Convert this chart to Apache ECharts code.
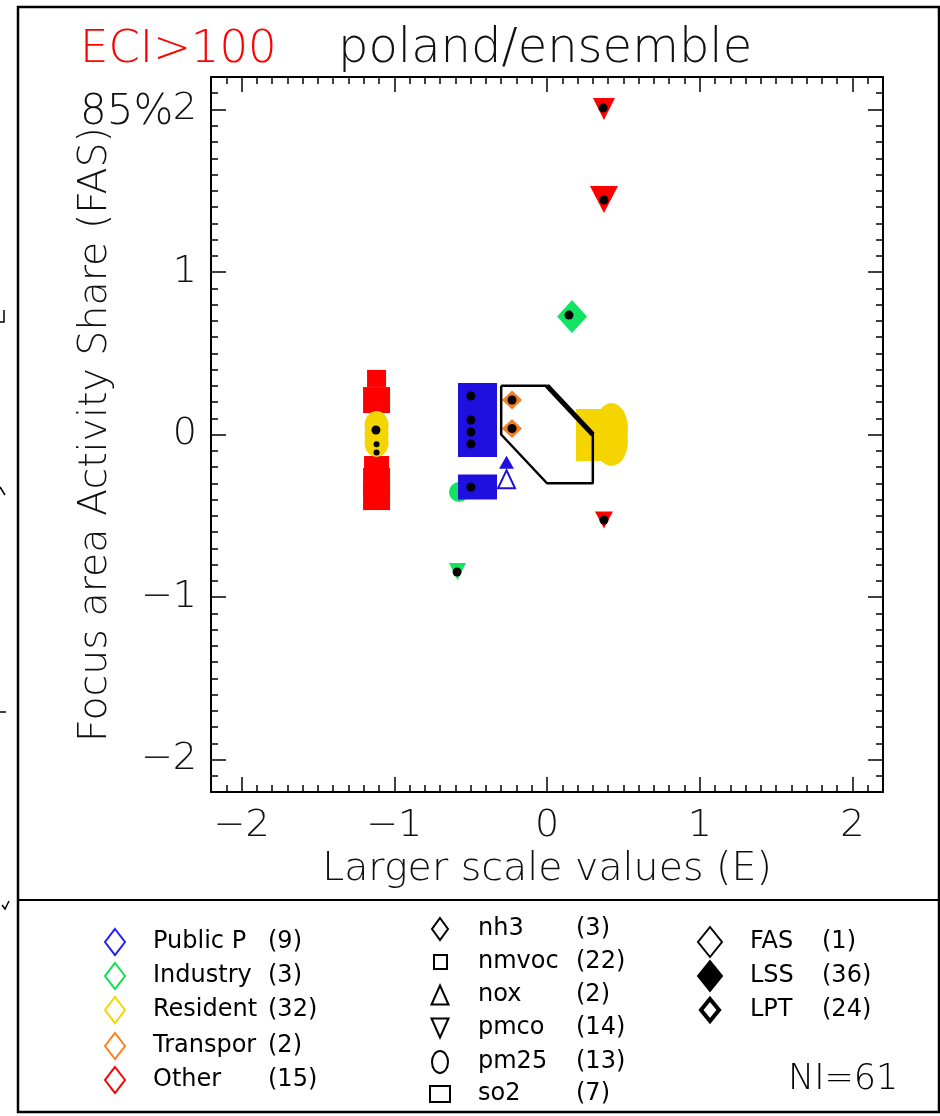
<!DOCTYPE html>
<html><head><meta charset="utf-8">
<script src="https://cdn.jsdelivr.net/npm/echarts@6/dist/echarts.min.js"></script>
<style>html,body{margin:0;padding:0;background:#fff}#c{width:940px;height:1116px}</style>
</head><body><div id="c"></div>
<script>
// ---------- texts ----------
const titleLeft = 'ECI>100';
const titleMain = 'poland/ensemble';
const pctLabel = '85%';
const xName = 'Larger scale values (E)';
const yName = 'Focus area Activity Share (FAS)';
const niLabel = 'NI=61';

// ---------- axes ----------
const axisMin = -2.2, axisMax = 2.2;
const majorTicks = [-2, -1, 0, 1, 2];
const minorStep = 0.1;

// ---------- legend ----------
const sectorNames = ['Public P', 'Industry', 'Resident', 'Transpor', 'Other'];
const sectorCounts = ['(9)', '(3)', '(32)', '(2)', '(15)'];
const pollutantNames = ['nh3', 'nmvoc', 'nox', 'pmco', 'pm25', 'so2'];
const pollutantCounts = ['(3)', '(22)', '(2)', '(14)', '(13)', '(7)'];
const typeNames = ['FAS', 'LSS', 'LPT'];
const typeCounts = ['(1)', '(36)', '(24)'];

// ---------- data (x = E, y = FAS) ----------
const otherNmvoc = [[-1.116, 0.345], [-1.116, 0.212], [-1.116, -0.206], [-1.116, -0.289], [-1.116, -0.382]];
const residentPm25Left = [[-1.116, 0.058], [-1.116, 0.003], [-1.116, -0.052]];
const residentNmvocRight = [[0.275, 0.077], [0.275, -0.083]];
const residentPm25Right = [[0.422, 0.04], [0.422, -0.04]];
const industryPm25 = [[-0.576, -0.354]];
const publicSo2 = [[-0.455, 0.237], [-0.455, 0.089], [-0.455, 0.015], [-0.455, -0.058], [-0.455, -0.323]];
const publicNox = [[-0.265, -0.17]];
const publicNoxOpen = [[-0.265, -0.275]];
const transporNh3 = [[-0.229, 0.212], [-0.229, 0.037]];
const industryNh3 = [[0.164, 0.726]];
const otherPmco = [[0.373, 2.003], [0.373, 1.446], [0.373, -0.526]];
const industryPmco = [[-0.586, -0.843]];
const lssDots = [[0.367, 2.01], [0.373, 1.443], [0.144, 0.735], [-0.498, 0.237], [-0.498, 0.089], [-0.498, 0.015],
  [-0.498, -0.058], [-0.498, -0.323], [-0.229, 0.212], [-0.229, 0.037], [-1.12, 0.028], [0.373, -0.526], [-0.589, -0.846]];
const lptMarks = [[-1.116, -0.06], [-1.116, -0.11]];
const regionOutline = [[-0.3, 0.3], [0, 0.3], [0.3, 0], [0.3, -0.3], [0, -0.3], [-0.3, 0], [-0.3, 0.3]];
const regionEdge = [[0, 0.3], [0.3, 0]];

// ---------- marker sizes (style) ----------
const sz = {
  otherNmvoc: [[19, 17], [27, 26], [25, 24], [27, 27], [27, 27]],
  residentPm25Left: [24, 28],
  residentNmvocRight: [26, 26],
  residentPm25Right: [33, 50],
  industryPm25: 20,
  publicSo2: [[39, 26], [39, 26], [39, 26], [39, 26], [39, 25]],
  publicNox: [15, 13],
  publicNoxOpen: [17, 18],
  transporNh3: [20, 19],
  industryNh3: [30, 33],
  otherPmco: [[22, 22], [28, 27], [18, 17]],
  industryPmco: [17, 17],
  dot: 9,
  lpt: 6
};
const col = { blue: '#2010e0', green: '#12e462', yellow: '#f5d500', orange: '#f08022', red: '#ff0000' };
const FONT = "'DejaVu Sans ExtraLight','DejaVu Sans'";
const LFONT = "'DejaVu Sans'";
const ELLIPSE = 'path://M0,-1A1,1,0,1,1,0,1A1,1,0,1,1,0,-1Z';

function pts(arr, size) {
  return arr.map((p, i) => ({ value: p, symbolSize: Array.isArray(size) && Array.isArray(size[0]) ? size[i] : size }));
}
function sc(name, data, symbol, color, extra) {
  return Object.assign({
    type: 'scatter', name: name, data: data, symbol: symbol,
    itemStyle: { color: color, opacity: 1 }, xAxisIndex: 0, yAxisIndex: 0, silent: true
  }, extra || {});
}

const minorTicks = [];
for (let v = Math.round(axisMin / minorStep); v <= Math.round(axisMax / minorStep); v++) {
  if (v % 10 !== 0) minorTicks.push(+(v * minorStep).toFixed(1));
}
const fmt = v => (v < 0 ? '\u2212' : '') + Math.abs(Math.round(v));
const axisColor = '#000';

function mkAxis(kind, pos, major, withLabels) {
  const a = {
    type: 'value', min: axisMin, max: axisMax, position: pos, gridIndex: 0,
    splitLine: { show: false },
    axisLine: { show: major, onZero: false, lineStyle: { color: axisColor, width: 2 } },
    axisTick: { show: true, inside: true, length: major ? 15 : 7, customValues: major ? majorTicks : minorTicks,
      lineStyle: { color: axisColor, width: 1.5 } },
    axisLabel: { show: withLabels, customValues: majorTicks, formatter: fmt, color: '#111',
      fontFamily: FONT, fontWeight: 200, fontSize: 38, margin: kind === 'x' ? 15 : 14 }
  };
  if (withLabels) {
    a.name = kind === 'x' ? xName : yName;
    a.nameLocation = 'middle';
    a.nameGap = kind === 'x' ? 55 : 95;
    a.nameTextStyle = { color: '#111', fontFamily: FONT, fontWeight: 200, fontSize: 39.5 };
  }
  return a;
}

// ---------- legend graphics ----------
function diamond(cx, cy, w, h, stroke, fill, lw) {
  return { type: 'polygon', shape: { points: [[cx, cy - h / 2], [cx + w / 2, cy], [cx, cy + h / 2], [cx - w / 2, cy]] },
    style: { stroke: stroke, fill: fill, lineWidth: lw } };
}
function tri(cx, cy, w, h, down) {
  const p = down ? [[cx - w / 2, cy - h / 2], [cx + w / 2, cy - h / 2], [cx, cy + h / 2]]
                 : [[cx, cy - h / 2], [cx + w / 2, cy + h / 2], [cx - w / 2, cy + h / 2]];
  return { type: 'polygon', shape: { points: p }, style: { stroke: '#000', fill: 'none', lineWidth: 2 } };
}
function txt(x, y, s, size, color, font, weight) {
  return { type: 'text', x: x, y: y, style: { text: s, fill: color || '#111',
    font: (weight || '200') + ' ' + size + 'px ' + (font || FONT),
    textAlign: 'left', textVerticalAlign: 'middle' } };
}
const g = [];
// frame
g.push({ type: 'rect', shape: { x: 18, y: 7, width: 921, height: 1105 }, style: { stroke: '#000', fill: 'none', lineWidth: 2.5 } });
g.push({ type: 'line', shape: { x1: 18, y1: 900, x2: 939, y2: 900 }, style: { stroke: '#000', lineWidth: 2 } });
// stray glyph fragments at the left edge
g.push({ type: 'polyline', shape: { points: [[4, 310], [4, 322], [0, 322]] }, style: { stroke: '#000', lineWidth: 1.5, fill: 'none' } });
g.push({ type: 'line', shape: { x1: 0, y1: 487, x2: 5, y2: 495 }, style: { stroke: '#000', lineWidth: 1.5 } });
g.push({ type: 'line', shape: { x1: 0, y1: 712, x2: 6, y2: 712 }, style: { stroke: '#000', lineWidth: 1.5 } });
g.push({ type: 'polyline', shape: { points: [[2, 905], [5, 909], [9, 901]] }, style: { stroke: '#000', lineWidth: 1.5, fill: 'none' } });
// titles
g.push(txt(80, 50, titleLeft, 45, '#ff0000'));
g.push(txt(338, 50, titleMain, 48, '#111'));
g.push(txt(80, 113, pctLabel, 42, '#111'));
// legend column 1
const sectorColors = ['#2020ff', '#10e050', '#f0d800', '#ff8020', '#ff0000'];
const rows1 = [942, 976, 1010, 1046, 1080];
sectorNames.forEach((n, i) => {
  g.push(diamond(115, rows1[i], 20, 26, sectorColors[i], 'none', 2));
  g.push(txt(153, rows1[i], n, 24, '#000', LFONT, 'normal'));
  g.push(txt(268, rows1[i], sectorCounts[i], 24, '#000', LFONT, 'normal'));
});
// legend column 2
const rows2 = [929, 962, 995, 1028, 1062, 1094];
g.push(diamond(440, rows2[0], 16, 22, '#000', 'none', 2));
g.push({ type: 'rect', shape: { x: 434, y: rows2[1] - 7, width: 13, height: 14 }, style: { stroke: '#000', fill: 'none', lineWidth: 2 } });
g.push(tri(440, rows2[2], 17, 19, false));
g.push(tri(440, rows2[3], 17, 19, true));
g.push({ type: 'ellipse', shape: { cx: 440, cy: rows2[4], rx: 8, ry: 11 }, style: { stroke: '#000', fill: 'none', lineWidth: 2 } });
g.push({ type: 'rect', shape: { x: 430, y: rows2[5] - 8, width: 20, height: 16 }, style: { stroke: '#000', fill: 'none', lineWidth: 2 } });
pollutantNames.forEach((n, i) => {
  g.push(txt(478, rows2[i], n, 24, '#000', LFONT, 'normal'));
  g.push(txt(576, rows2[i], pollutantCounts[i], 24, '#000', LFONT, 'normal'));
});
// legend column 3
const rows3 = [942, 976, 1010];
g.push(diamond(710, rows3[0], 24, 30, '#000', 'none', 2));
g.push(diamond(710, rows3[1], 24, 30, '#000', '#000', 2));
g.push(diamond(710, rows3[2], 18, 22, '#000', '#fff', 4));
typeNames.forEach((n, i) => {
  g.push(txt(750, rows3[i], n, 24, '#000', LFONT, 'normal'));
  g.push(txt(822, rows3[i], typeCounts[i], 24, '#000', LFONT, 'normal'));
});
g.push(txt(788, 1080, niLabel, 35, '#000'));

const option = {
  animation: false,
  backgroundColor: '#fff',
  grid: { left: 211, right: 57, top: 77, bottom: 324, containLabel: false },
  xAxis: [mkAxis('x', 'bottom', true, true), mkAxis('x', 'bottom', false, false),
          mkAxis('x', 'top', true, false), mkAxis('x', 'top', false, false)],
  yAxis: [mkAxis('y', 'left', true, true), mkAxis('y', 'left', false, false),
          mkAxis('y', 'right', true, false), mkAxis('y', 'right', false, false)],
  graphic: g,
  series: [
    sc('Other nmvoc', pts(otherNmvoc, sz.otherNmvoc), 'rect', col.red),
    sc('Resident pm25', pts(residentPm25Left, sz.residentPm25Left), ELLIPSE, col.yellow),
    sc('Resident nmvoc', pts(residentNmvocRight, sz.residentNmvocRight), 'rect', col.yellow),
    sc('Resident pm25 b', pts(residentPm25Right, sz.residentPm25Right), ELLIPSE, col.yellow),
    sc('Industry pm25', pts(industryPm25, sz.industryPm25), 'circle', col.green),
    sc('Public so2', pts(publicSo2, sz.publicSo2), 'rect', col.blue),
    sc('Public nox', pts(publicNox, sz.publicNox), 'triangle', col.blue),
    sc('Public nox FAS', pts(publicNoxOpen, sz.publicNoxOpen), 'triangle', col.blue,
       { itemStyle: { color: '#fff', borderColor: col.blue, borderWidth: 2, opacity: 1 } }),
    sc('Transpor nh3', pts(transporNh3, sz.transporNh3), 'diamond', col.orange),
    sc('Industry nh3', pts(industryNh3, sz.industryNh3), 'diamond', col.green),
    sc('Other pmco', pts(otherPmco, sz.otherPmco), 'triangle', col.red, { symbolRotate: 180 }),
    sc('Industry pmco', pts(industryPmco, sz.industryPmco), 'triangle', col.green, { symbolRotate: 180 }),
    { type: 'line', data: regionOutline, symbol: 'none', silent: true, z: 3,
      lineStyle: { color: '#000', width: 2.5 }, xAxisIndex: 0, yAxisIndex: 0 },
    { type: 'line', data: regionEdge, symbol: 'none', silent: true, z: 3,
      lineStyle: { color: '#000', width: 5 }, xAxisIndex: 0, yAxisIndex: 0 },
    sc('LSS', pts(lssDots, sz.dot), 'circle', '#000', { z: 4 }),
    sc('LPT', pts(lptMarks, sz.lpt), 'circle', '#000', { z: 4 })
  ]
};
const chart = echarts.init(document.getElementById('c'), null, { renderer: 'canvas' });
chart.setOption(option);
</script>
</body></html>
